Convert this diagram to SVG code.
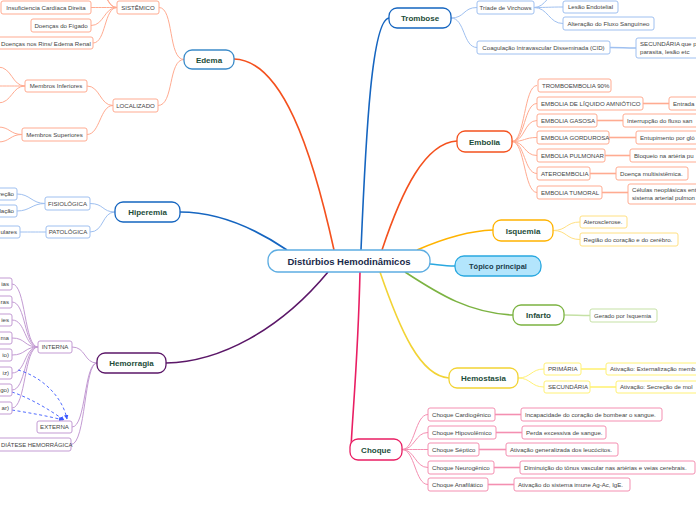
<svg xmlns="http://www.w3.org/2000/svg" width="696" height="520" viewBox="0 0 696 520">
<style>
text{font-family:"Liberation Sans",Arial,sans-serif}
.s{font-size:6.1px;fill:#444}
.m{font-size:8px;font-weight:bold;fill:#1d4d3a;text-anchor:middle}
.c{font-size:9.5px;font-weight:bold;fill:#1a2a4a;text-anchor:middle}
.b{fill:#fff;stroke-width:1}
.or{stroke:#ffab91}
.bl{stroke:#9fc0f0}
.pu{stroke:#c39bd3}
.ye{stroke:#ffe082}
.gr{stroke:#c5e1a5}
.hy{stroke:#fff176}
.pk{stroke:#f48fb1}
.ln{fill:none}
.lo{stroke:#ffab91}
.lb{stroke:#9fc0f0}
.lp{stroke:#c39bd3}
.ly{stroke:#ffe082}
.lg{stroke:#c5e1a5}
.lh{stroke:#fff176}
.lk{stroke:#f48fb1}
.t1{stroke-width:1}
.t2{stroke-width:1.6}
.mn{fill:#fff;stroke-width:1.3}
.mc{fill:none;stroke-width:1.6}
</style>
<defs>
<marker id="ah" viewBox="0 0 10 10" refX="9" refY="5" markerWidth="5" markerHeight="5" orient="auto"><path d="M0 0L10 5L0 10z" fill="#3d5afe"/></marker>
</defs>
<g id="connectors">
<path class="mc" stroke="#f4511e" d="M334 250 C312 150 282 60 234 59"/>
<path class="mc" stroke="#1565c0" d="M361 250 C366 130 372 20 389 18"/>
<path class="mc" stroke="#f4511e" d="M382 250 C402 190 425 143 457 141"/>
<path class="mc" stroke="#1565c0" d="M287 250 C250 225 215 212 180 212"/>
<path class="mc" stroke="#ffb300" d="M417 250 C440 240 465 231 493 230"/>
<path class="mc" stroke="#29a8e0" d="M430 264 C440 265 445 266 455 266"/>
<path class="mc" stroke="#7cb342" d="M405 272 C440 295 470 313 513 315"/>
<path class="mc" stroke="#f2d335" d="M380 272 C400 330 420 376 449 378"/>
<path class="mc" stroke="#e91e63" d="M360 272 C358 360 352 420 351 449"/>
<path class="mc" stroke="#5b1768" d="M328 272 C280 330 220 362 166 363"/>
<g class="ln lo t1">
<path d="M184 59.5 C168 59.5 174 7.5 159 7.5"/>
<path d="M184 59.5 C168 59.5 174 105.5 158 105.5"/>
<path d="M117 7.5 C104 7.5 104 7.5 91 7.5"/>
<path d="M117 7.5 C104 7.5 104 25.5 91 25.5"/>
<path d="M117 7.5 C104 7.5 106 43 93 43"/>
<path d="M117 7.5 C106 7.5 108 -10 96 -10"/>
<path d="M117 7.5 C108 7.5 110 -4 100 -4"/>
<path d="M113 105.5 C100 105.5 100 86 87 86"/>
<path d="M113 105.5 C100 105.5 100 134.5 87 134.5"/>
<path d="M25 86 C12 86 12 67 -2 67"/>
<path d="M25 86 C12 86 12 86 -2 86"/>
<path d="M25 86 C12 86 12 103 -2 103"/>
<path d="M22 134.5 C10 134.5 10 127 -2 127"/>
<path d="M22 134.5 C10 134.5 10 142 -2 142"/>
</g>
<g class="ln lb t1">
<path d="M115 212 C102 212 104 203.5 90 203.5"/>
<path d="M115 212 C102 212 104 232 90 232"/>
<path d="M45 203.5 C32 203.5 30 194 17 194"/>
<path d="M45 203.5 C32 203.5 30 211 17 211"/>
<path d="M46 232 C34 232 32 232 20 232"/>
</g>
<g class="ln lp t1">
<path d="M97 363 C84 363 86 347 72 347"/>
<path d="M97 363 C84 363 86 427 72 427"/>
<path d="M97 363 C84 363 86 444.5 71 444.5"/>
<path d="M38 347 C24 347 26 284 12 284"/>
<path d="M38 347 C24 347 26 302 12 302"/>
<path d="M38 347 C24 347 26 320 12 320"/>
<path d="M38 347 C24 347 26 338 12 338"/>
<path d="M38 347 C24 347 26 355 12 355"/>
<path d="M38 347 C24 347 26 373 12 373"/>
<path d="M38 347 C24 347 26 390 12 390"/>
<path d="M38 347 C24 347 26 408 12 408"/>
</g>
<g class="ln" stroke="#3d5afe" stroke-width="0.9" stroke-dasharray="3,2.5">
<path d="M18 370 C40 376 62 395 67 419" marker-end="url(#ah)"/>
<path d="M12 392 C30 398 50 410 64 420" marker-end="url(#ah)"/>
<path d="M12 410 C30 413 48 416 63 420" marker-end="url(#ah)"/>
</g>
<g class="ln lb t1">
<path d="M451 18 C465 18 463 7.5 477 7.5"/>
<path d="M451 18 C465 18 463 47.5 477 47.5"/>
<path d="M534 7.5 C548 7.5 549 7 563 7"/>
<path d="M534 7.5 C548 7.5 549 23.5 563 23.5"/>
<path d="M534 7.5 C546 7.5 548 -8 560 -8"/>
</g>
<path class="ln lb t2" d="M610 47.5 C623 47.5 623 48 636 48"/>
<g class="ln lo t1">
<path d="M512 141.5 C525 141.5 524 85.5 537 85.5"/>
<path d="M512 141.5 C525 141.5 524 103.5 537 103.5"/>
<path d="M512 141.5 C525 141.5 524 120.5 537 120.5"/>
<path d="M512 141.5 C525 141.5 524 137.5 537 137.5"/>
<path d="M512 141.5 C525 141.5 524 155.5 537 155.5"/>
<path d="M512 141.5 C525 141.5 524 173.5 537 173.5"/>
<path d="M512 141.5 C525 141.5 524 192.5 537 192.5"/>
</g>
<g class="ln lo t2">
<path d="M643 103.5 L669 103.5"/>
<path d="M597 120.5 L623 120.5"/>
<path d="M609 137.5 L636 137.5"/>
<path d="M605 155.5 L630 155.5"/>
<path d="M590 173.5 L616 173.5"/>
<path d="M602 192.5 L628 192.5"/>
</g>
<g class="ln ly t1">
<path d="M553 230.5 C567 230.5 566 222 580 222"/>
<path d="M553 230.5 C567 230.5 566 239.5 580 239.5"/>
</g>
<path class="ln lg t2" d="M564 315 C577 315 577 315.5 590 315.5"/>
<g class="ln lh t1">
<path d="M518 378 C531 378 531 369 544 369"/>
<path d="M518 378 C531 378 531 387 544 387"/>
</g>
<g class="ln lh t2">
<path d="M581 369 L606 369"/>
<path d="M590 387 L616 387"/>
</g>
<g class="ln lk t1">
<path d="M402 449.5 C415 449.5 415 414.5 428 414.5"/>
<path d="M402 449.5 C415 449.5 415 432.5 428 432.5"/>
<path d="M402 449.5 C415 449.5 415 449.5 428 449.5"/>
<path d="M402 449.5 C415 449.5 415 467.5 428 467.5"/>
<path d="M402 449.5 C415 449.5 415 484.5 428 484.5"/>
</g>
<g class="ln lk t2">
<path d="M495 414.5 L521 414.5"/>
<path d="M496 432.5 L522 432.5"/>
<path d="M479 449.5 L506 449.5"/>
<path d="M494 467.5 L520 467.5"/>
<path d="M488 484.5 L514 484.5"/>
</g>
</g>

<g id="center">
<rect x="268" y="250" width="162" height="22" rx="10" fill="#fff" stroke="#5dade2" stroke-width="1.3"/>
<text class="c" x="349" y="264.5">Distúrbios Hemodinâmicos</text>
</g>
<g id="topico">
<rect x="455" y="256" width="86" height="20" rx="9" fill="#b3e5fc" stroke="#29a8e0" stroke-width="1.3"/>
<text class="m" x="498" y="269" style="font-size:7.5px;fill:#1a3a4a">Tópico principal</text>
</g>

<g id="edema">
<rect class="mn" x="184" y="50" width="50" height="19" rx="8" stroke="#3b8bc9"/>
<text class="m" x="209" y="62.5">Edema</text>
</g>
<g id="trombose">
<rect class="mn" x="389" y="8" width="62" height="20" rx="8" stroke="#1565c0"/>
<text class="m" x="420" y="21">Trombose</text>
</g>
<g id="embolia">
<rect class="mn" x="457" y="131" width="55" height="21" rx="8" stroke="#f4511e"/>
<text class="m" x="484.5" y="144.5">Embolia</text>
</g>
<g id="hiperemia">
<rect class="mn" x="115" y="202" width="65" height="20" rx="8" stroke="#1565c0"/>
<text class="m" x="147.5" y="215">Hiperemia</text>
</g>
<g id="isquemia">
<rect class="mn" x="493" y="220" width="60" height="21" rx="8" stroke="#ffb300"/>
<text class="m" x="523" y="233.5">Isquemia</text>
</g>
<g id="infarto">
<rect class="mn" x="513" y="305" width="51" height="20" rx="8" stroke="#7cb342"/>
<text class="m" x="538.5" y="318">Infarto</text>
</g>
<g id="hemostasia">
<rect class="mn" x="449" y="368" width="69" height="20" rx="8" stroke="#f2d335"/>
<text class="m" x="483.5" y="381">Hemostasia</text>
</g>
<g id="hemorragia">
<rect class="mn" x="97" y="353" width="69" height="20" rx="8" stroke="#5b1768"/>
<text class="m" x="131.5" y="366">Hemorragia</text>
</g>
<g id="choque">
<rect class="mn" x="350" y="439" width="52" height="21" rx="8" stroke="#e91e63"/>
<text class="m" x="376" y="452.5">Choque</text>
</g>

<g id="sistemico"><rect class="b or" x="117" y="1" width="42" height="13" rx="2"/><text class="s" x="138" y="9.5" text-anchor="middle">SISTÊMICO</text></g>
<g id="localizado"><rect class="b or" x="113" y="99" width="45" height="13" rx="2"/><text class="s" x="135.5" y="107.5" text-anchor="middle">LOCALIZADO</text></g>
<g id="insuf"><rect class="b or" x="1" y="1" width="90" height="13" rx="2"/><text class="s" x="46" y="9.5" text-anchor="middle">Insuficiencia Cardíaca Direita</text></g>
<g id="figado"><rect class="b or" x="31" y="19" width="60" height="13" rx="2"/><text class="s" x="61" y="27.5" text-anchor="middle">Doenças do Fígado</text></g>
<g id="rins"><rect class="b or" x="-2" y="37" width="95" height="12" rx="2"/><text class="s" x="1" y="45.5">Doenças nos Rins/ Edema Renal</text></g>
<g id="minf"><rect class="b or" x="25" y="80" width="62" height="12" rx="2"/><text class="s" x="56" y="88.3" text-anchor="middle">Membros Inferiores</text></g>
<g id="msup"><rect class="b or" x="22" y="128" width="65" height="13" rx="2"/><text class="s" x="54.5" y="136.5" text-anchor="middle">Membros Superiores</text></g>

<g id="fisio"><rect class="b bl" x="45" y="197" width="45" height="13" rx="2"/><text class="s" x="67.5" y="205.5" text-anchor="middle">FISIOLÓGICA</text></g>
<g id="pato"><rect class="b bl" x="46" y="226" width="44" height="12" rx="2"/><text class="s" x="68" y="234.3" text-anchor="middle">PATOLÓGICA</text></g>
<g id="h1"><rect class="b bl" x="-10" y="188" width="27" height="12" rx="2"/><text class="s" x="14" y="196.3" text-anchor="end">reção</text></g>
<g id="h2"><rect class="b bl" x="-10" y="205" width="27" height="12" rx="2"/><text class="s" x="14" y="213.3" text-anchor="end">lação</text></g>
<g id="h3"><rect class="b bl" x="-10" y="226" width="30" height="12" rx="2"/><text class="s" x="17" y="234.3" text-anchor="end">ulares</text></g>

<g id="interna"><rect class="b pu" x="38" y="341" width="34" height="12" rx="2"/><text class="s" x="55" y="349.3" text-anchor="middle">INTERNA</text></g>
<g id="externa"><rect class="b pu" x="37" y="421" width="35" height="12" rx="2"/><text class="s" x="54.5" y="429.3" text-anchor="middle">EXTERNA</text></g>
<g id="diatese"><rect class="b pu" x="-6" y="438" width="77" height="13" rx="2"/><text class="s" x="1" y="446.5" style="font-size:5.9px">DIÁTESE HEMORRÁGICA</text></g>
<g id="l1"><rect class="b pu" x="-10" y="278" width="22" height="12" rx="2"/><text class="s" x="9" y="286.3" text-anchor="end">ias</text></g>
<g id="l2"><rect class="b pu" x="-10" y="296" width="22" height="12" rx="2"/><text class="s" x="9" y="304.3" text-anchor="end">ras</text></g>
<g id="l3"><rect class="b pu" x="-10" y="314" width="22" height="12" rx="2"/><text class="s" x="9" y="322.3" text-anchor="end">ies</text></g>
<g id="l4"><rect class="b pu" x="-10" y="332" width="22" height="12" rx="2"/><text class="s" x="9" y="340.3" text-anchor="end">ma</text></g>
<g id="l5"><rect class="b pu" x="-10" y="349" width="22" height="12" rx="2"/><text class="s" x="9" y="357.3" text-anchor="end">io)</text></g>
<g id="l6"><rect class="b pu" x="-10" y="367" width="22" height="12" rx="2"/><text class="s" x="9" y="375.3" text-anchor="end">iz)</text></g>
<g id="l7"><rect class="b pu" x="-10" y="384" width="22" height="12" rx="2"/><text class="s" x="9" y="392.3" text-anchor="end">go)</text></g>
<g id="l8"><rect class="b pu" x="-10" y="402" width="22" height="12" rx="2"/><text class="s" x="9" y="410.3" text-anchor="end">ar)</text></g>

<g id="triade"><rect class="b bl" x="477" y="1" width="57" height="13" rx="2"/><text class="s" x="505.5" y="9.5" text-anchor="middle">Tríade de Virchows</text></g>
<g id="lesao"><rect class="b bl" x="563" y="1" width="55" height="12" rx="2"/><text class="s" x="590.5" y="9.3" text-anchor="middle">Lesão Endotelial</text></g>
<g id="alter"><rect class="b bl" x="563" y="17" width="91" height="13" rx="2"/><text class="s" x="608.5" y="25.5" text-anchor="middle">Alteração do Fluxo Sanguíneo</text></g>
<g id="cid"><rect class="b bl" x="477" y="41" width="133" height="13" rx="2"/><text class="s" x="543.5" y="49.5" text-anchor="middle">Coagulação Intravascular Disseminada (CID)</text></g>
<g id="secund"><rect class="b bl" x="636" y="38" width="70" height="20" rx="2"/><text class="s" x="640" y="46">SECUNDÁRIA que p</text><text class="s" x="640" y="54">parasita, lesão etc</text></g>

<g id="e1"><rect class="b or" x="538" y="79" width="73" height="13" rx="2"/><text class="s" x="542" y="87.5">TROMBOEMBOLIA 90%</text></g>
<g id="e2"><rect class="b or" x="537" y="97" width="106" height="13" rx="2"/><text class="s" x="541" y="105.5">EMBOLIA DE LÍQUIDO AMNIÓTICO</text></g>
<g id="e3"><rect class="b or" x="537" y="114" width="60" height="13" rx="2"/><text class="s" x="541" y="122.5">EMBOLIA GASOSA</text></g>
<g id="e4"><rect class="b or" x="537" y="131" width="72" height="13" rx="2"/><text class="s" x="541" y="139.5">EMBOLIA GORDUROSA</text></g>
<g id="e5"><rect class="b or" x="537" y="149" width="68" height="13" rx="2"/><text class="s" x="541" y="157.5">EMBOLIA PULMONAR</text></g>
<g id="e6"><rect class="b or" x="537" y="167" width="53" height="13" rx="2"/><text class="s" x="541" y="175.5">ATEROEMBOLIA</text></g>
<g id="e7"><rect class="b or" x="537" y="186" width="65" height="13" rx="2"/><text class="s" x="541" y="194.5">EMBOLIA TUMORAL</text></g>
<g id="e2a"><rect class="b or" x="669" y="97" width="40" height="13" rx="2"/><text class="s" x="673" y="105.5">Entrada</text></g>
<g id="e3a"><rect class="b or" x="623" y="114" width="85" height="13" rx="2"/><text class="s" x="627" y="122.5">Interrupção do fluxo san</text></g>
<g id="e4a"><rect class="b or" x="636" y="131" width="72" height="13" rx="2"/><text class="s" x="640" y="139.5">Entupimento por gló</text></g>
<g id="e5a"><rect class="b or" x="630" y="149" width="78" height="13" rx="2"/><text class="s" x="634" y="157.5">Bloqueio na artéria pu</text></g>
<g id="e6a"><rect class="b or" x="616" y="167" width="72" height="13" rx="2"/><text class="s" x="620" y="175.5">Doença multisistêmica.</text></g>
<g id="e7a"><rect class="b or" x="628" y="184" width="80" height="20" rx="2"/><text class="s" x="632" y="192">Células neoplásicas ent</text><text class="s" x="632" y="200">sistema arterial pulmon</text></g>

<g id="i1"><rect class="b ye" x="580" y="216" width="47" height="12" rx="2"/><text class="s" x="583.5" y="224.3">Aterosclerose.</text></g>
<g id="i2"><rect class="b ye" x="580" y="233" width="98" height="13" rx="2"/><text class="s" x="583.5" y="241.5">Região do coração e do cerébro.</text></g>

<g id="inf1"><rect class="b gr" x="590" y="309" width="67" height="13" rx="2"/><text class="s" x="594" y="317.5">Gerado por Isquemia</text></g>

<g id="hs1"><rect class="b hy" x="544" y="363" width="37" height="12" rx="2"/><text class="s" x="548" y="371.3">PRIMÁRIA</text></g>
<g id="hs2"><rect class="b hy" x="544" y="381" width="46" height="12" rx="2"/><text class="s" x="548" y="389.3">SECUNDÁRIA</text></g>
<g id="hs1a"><rect class="b hy" x="606" y="363" width="100" height="12" rx="2"/><text class="s" x="610" y="371.3">Ativação: Externalização memb</text></g>
<g id="hs2a"><rect class="b hy" x="616" y="381" width="90" height="12" rx="2"/><text class="s" x="620" y="389.3">Ativação: Secreção de mol</text></g>

<g id="c1"><rect class="b pk" x="428" y="408" width="67" height="13" rx="2"/><text class="s" x="432" y="416.5">Choque Cardiogênico</text></g>
<g id="c2"><rect class="b pk" x="428" y="426" width="68" height="13" rx="2"/><text class="s" x="432" y="434.5">Choque Hipovolêmico</text></g>
<g id="c3"><rect class="b pk" x="428" y="443" width="51" height="13" rx="2"/><text class="s" x="432" y="451.5">Choque Séptico</text></g>
<g id="c4"><rect class="b pk" x="428" y="461" width="66" height="13" rx="2"/><text class="s" x="432" y="469.5">Choque Neurogênico</text></g>
<g id="c5"><rect class="b pk" x="428" y="478" width="60" height="13" rx="2"/><text class="s" x="432" y="486.5">Choque Anafilático</text></g>
<g id="c1a"><rect class="b pk" x="521" y="408" width="141" height="13" rx="2"/><text class="s" x="525" y="416.5">Incapacidade do coração de bombear o sangue.</text></g>
<g id="c2a"><rect class="b pk" x="522" y="426" width="84" height="13" rx="2"/><text class="s" x="526" y="434.5">Perda excessiva de sangue.</text></g>
<g id="c3a"><rect class="b pk" x="506" y="443" width="112" height="13" rx="2"/><text class="s" x="510" y="451.5">Ativação generalizada dos leucócitos.</text></g>
<g id="c4a"><rect class="b pk" x="520" y="461" width="175" height="13" rx="2"/><text class="s" x="524" y="469.5">Diminuição do tônus vascular nas artérias e veias cerebrais.</text></g>
<g id="c5a"><rect class="b pk" x="514" y="478" width="116" height="13" rx="2"/><text class="s" x="518" y="486.5">Ativação do sistema imune Ag-Ac, IgE.</text></g>
</svg>
